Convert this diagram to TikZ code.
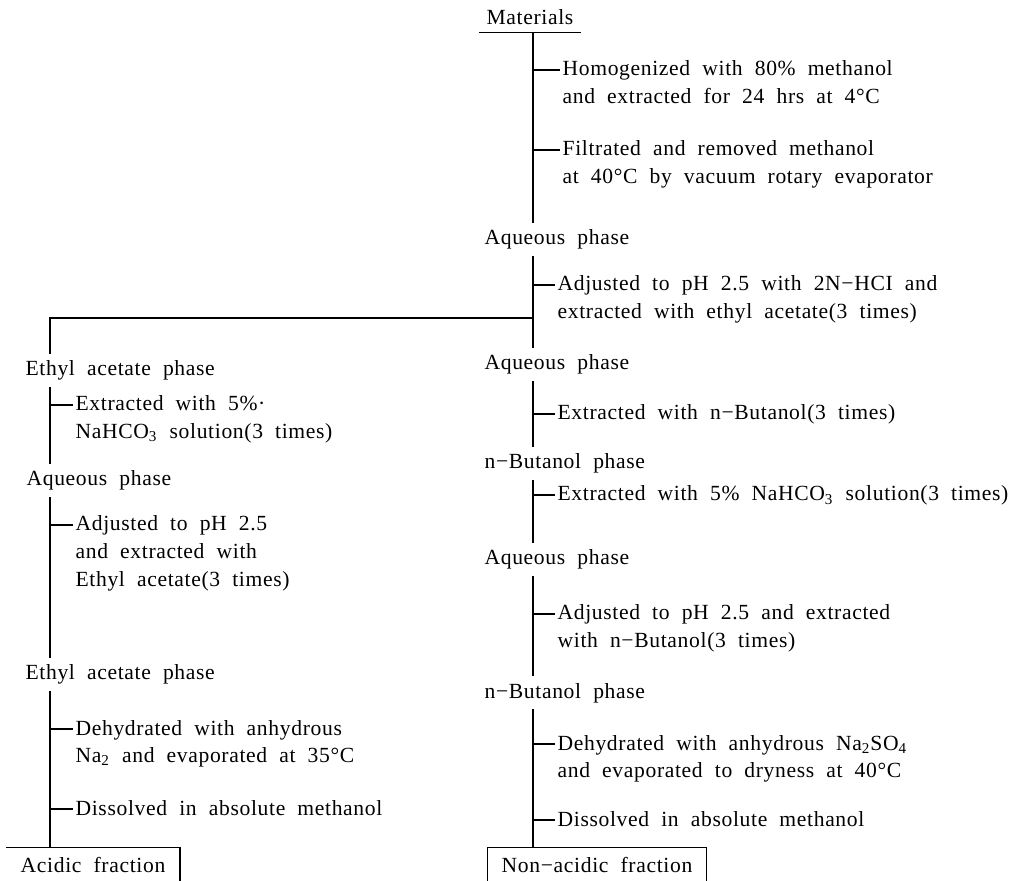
\documentclass[tikz,border=0pt]{standalone}
\usepackage{fontspec}
\setmainfont{Liberation Serif}[LetterSpace=3,WordSpace=2]
\newcommand{\stagelines}[1]{\begin{tabular}[t]{@{}l@{}}#1\end{tabular}}
\begin{document}
\begin{tikzpicture}[x=0.5pt, y=-0.5pt, line width=0.6pt, line cap=butt,
    font=\fontsize{10.8}{13.8}\selectfont,
    phase/.style={anchor=base west, inner xsep=0pt, inner ysep=3pt},
    stage/.style={anchor=base west, inner sep=1pt},
    fracbox/.style={anchor=base, inner xsep=7pt, inner ysep=4.5pt}]
    \useasboundingbox (0,0) rectangle (1012,881);
    % Parameters
    \def\rx{533}   % right spine
    \def\lx{50}    % left spine
    \coordinate (R) at (\rx,0);
    \coordinate (L) at (\lx,0);

    % phases on the right
    \node[anchor=base, inner xsep=3.5pt, inner ysep=3.5pt] (mat) at (530,25) {Materials};
    \node[phase] (aq1) at (484,245) {Aqueous phase};
    \node[phase] (aq2) at (484,370) {Aqueous phase};
    \node[phase] (bu1) at (484,469) {n−Butanol phase};
    \node[phase] (aq3) at (484,565) {Aqueous phase};
    \node[phase] (bu2) at (484,698) {n−Butanol phase};
    % phases on the left
    \node[phase] (ea1) at (25,376) {Ethyl acetate phase};
    \node[phase] (aq4) at (26,486) {Aqueous phase};
    \node[phase] (ea2) at (25,680) {Ethyl acetate phase};

    % steps on the right
    \node[stage] (s1) at (560,76) {\stagelines{Homogenized with 80\% methanol\\and extracted for 24 hrs at 4°C}};
    \node[stage] (s2) at (560,156) {\stagelines{Filtrated and removed methanol\\at 40°C by vacuum rotary evaporator}};
    \node[stage] (s3) at (555,291) {\stagelines{Adjusted to pH 2.5 with 2N−HCI and\\extracted with ethyl acetate(3 times)}};
    \node[stage] (s4) at (555,420) {Extracted with n−Butanol(3 times)};
    \node[stage] (s5) at (555,501) {Extracted with 5\% NaHCO\textsubscript{3} solution(3 times)};
    \node[stage] (s6) at (555,620) {\stagelines{Adjusted to pH 2.5 and extracted\\with n−Butanol(3 times)}};
    \node[stage] (s7) at (555,750) {\stagelines{Dehydrated with anhydrous Na\textsubscript{2}SO\textsubscript{4}\\and evaporated to dryness at 40°C}};
    \node[stage] (s8) at (555,826) {Dissolved in absolute methanol};
    % steps on the left
    \node[stage] (t1) at (73,411) {\stagelines{Extracted with 5\%·\\NaHCO\textsubscript{3} solution(3 times)}};
    \node[stage] (t2) at (73,531) {\stagelines{Adjusted to pH 2.5\\and extracted with\\Ethyl acetate(3 times)}};
    \node[stage] (t3) at (73,735) {\stagelines{Dehydrated with anhydrous\\Na\textsubscript{2} and evaporated at 35°C}};
    \node[stage] (t4) at (73,815) {Dissolved in absolute methanol};

    % fractions
    \node[fracbox] (acid) at (93,872) {Acidic fraction};
    \node[fracbox] (nonacid) at (597,872) {Non−acidic fraction};

    % underline and right spine
    \draw (mat.south west) -- (mat.south east);
    \draw (mat.south -| R) -- (aq1.north -| R);
    \draw (aq1.south -| R) -- (aq2.north -| R);
    \draw (aq2.south -| R) -- (bu1.north -| R);
    \draw (bu1.south -| R) -- (aq3.north -| R);
    \draw (aq3.south -| R) -- (bu2.north -| R);
    \draw (bu2.south -| R) -- (nonacid.north -| R);

    % branch to the left spine
    \coordinate (br) at (\rx,318);
    \draw (br) -- (br -| L) -- (ea1.north -| L);
    \draw (ea1.south -| L) -- (aq4.north -| L);
    \draw (aq4.south -| L) -- (ea2.north -| L);
    \draw (ea2.south -| L) -- (acid.north -| L);

    % ticks
    \foreach \s in {s1,s2,s3,s4,s5,s6,s7,s8} {
      \path (\s.base west) ++(0,-6) coordinate (\s-t);
      \draw (\s-t -| R) -- (\s-t);
    }
    \foreach \s in {t1,t2,t3,t4} {
      \path (\s.base west) ++(0,-6) coordinate (\s-t);
      \draw (\s-t -| L) -- (\s-t);
    }

    % fraction boxes, cut at the lower edge
    \draw (acid.north west) -- (acid.north east) -- (acid.south east);
    \draw (nonacid.south west) -- (nonacid.north west) -- (nonacid.north east) -- (nonacid.south east);
\end{tikzpicture}
\end{document}
